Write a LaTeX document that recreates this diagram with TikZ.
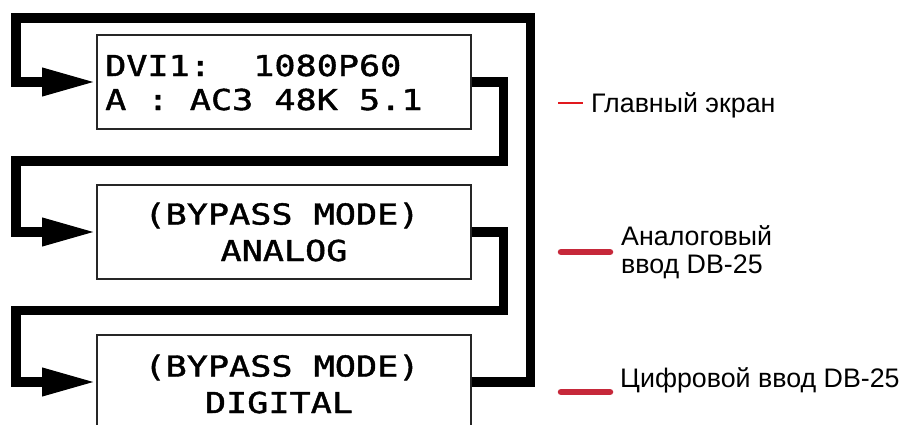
\documentclass[tikz,border=0pt]{standalone}
\usepackage{fontspec}
\setmainfont{Liberation Sans}
\newfontfamily\lcdfont[FakeStretch=1.22,FakeBold=1.5]{DejaVu Sans Mono}
\usetikzlibrary{arrows.meta}
\definecolor{mainred}{RGB}{225,25,30}
\definecolor{portred}{RGB}{198,40,58}
\tikzset{
  lcdbox/.style={draw=black!85, line width=1.6pt, minimum width=374pt, minimum height=94pt, inner sep=0pt},
  lcdtext/.style={inner sep=0pt, font=\lcdfont\fontsize{28.8}{34}\selectfont},
  flow/.style={line width=9.5pt, line join=miter, -{Triangle[length=54pt,width=26pt]}},
  label/.style={inner sep=0pt, font=\fontsize{26.8}{28}\selectfont, align=left},
  thinmark/.style={draw=mainred, line width=1.5pt},
  thickmark/.style={draw=portred, line width=6.5pt, line cap=round}
}
\begin{document}
\begin{tikzpicture}[x=1pt,y=-1pt]
\useasboundingbox (0,0) rectangle (899,424);
\clip (0,0) rectangle (899,424);
% rails
\coordinate (lRail) at (16,0);
\coordinate (rIn) at (503.5,0);
\coordinate (rOut) at (530.5,0);
\coordinate (topRow) at (0,18);
\coordinate (gap1) at (0,161);
\coordinate (gap2) at (0,310.5);
% boxes
\node[lcdbox] (b1) at (284,82) {};
\node[lcdbox] (b2) at (284,232) {};
\node[lcdbox] (b3) at (284,382) {};
% LCD texts
\node[lcdtext, anchor=base west] (t1a) at (105,76) {DVI1:\ \ 1080P60};
\node[lcdtext, anchor=base west] (t1b) at (105,110) {A : AC3 48K 5.1};
\node[lcdtext, anchor=base] (t2a) at (282,224.5) {(BYPASS MODE)};
\node[lcdtext, anchor=base] (t2b) at (284,261) {ANALOG};
\node[lcdtext, anchor=base] (t3a) at (282,376.5) {(BYPASS MODE)};
\node[lcdtext, anchor=base] (t3b) at (279,413) {DIGITAL};
% connectors
\draw[flow] (b3.east) -| (rOut |- topRow) -| (lRail |- b1.west) -- (b1.west);
\draw[flow] (b1.east) -| (rIn |- gap1) -| (lRail |- b2.west) -- (b2.west);
\draw[flow] (b2.east) -| (rIn |- gap2) -| (lRail |- b3.west) -- (b3.west);
% legend marks
\coordinate (m1a) at (558,103); \coordinate (m1b) at (583,103);
\coordinate (m2a) at (561,252); \coordinate (m2b) at (610,252);
\coordinate (m3a) at (561,392); \coordinate (m3b) at (610,392);
\draw[thinmark] (m1a) -- (m1b);
\draw[thickmark] (m2a) -- (m2b);
\draw[thickmark] (m3a) -- (m3b);
\node[label, anchor=base west] (l1) at (591,112) {Главный экран};
\node[label, anchor=base west] (l2) at (621,273) {Аналоговый\\ввод DB-25};
\node[label, anchor=base west] (l3) at (620,387) {Цифровой ввод DB-25};
\end{tikzpicture}
\end{document}
